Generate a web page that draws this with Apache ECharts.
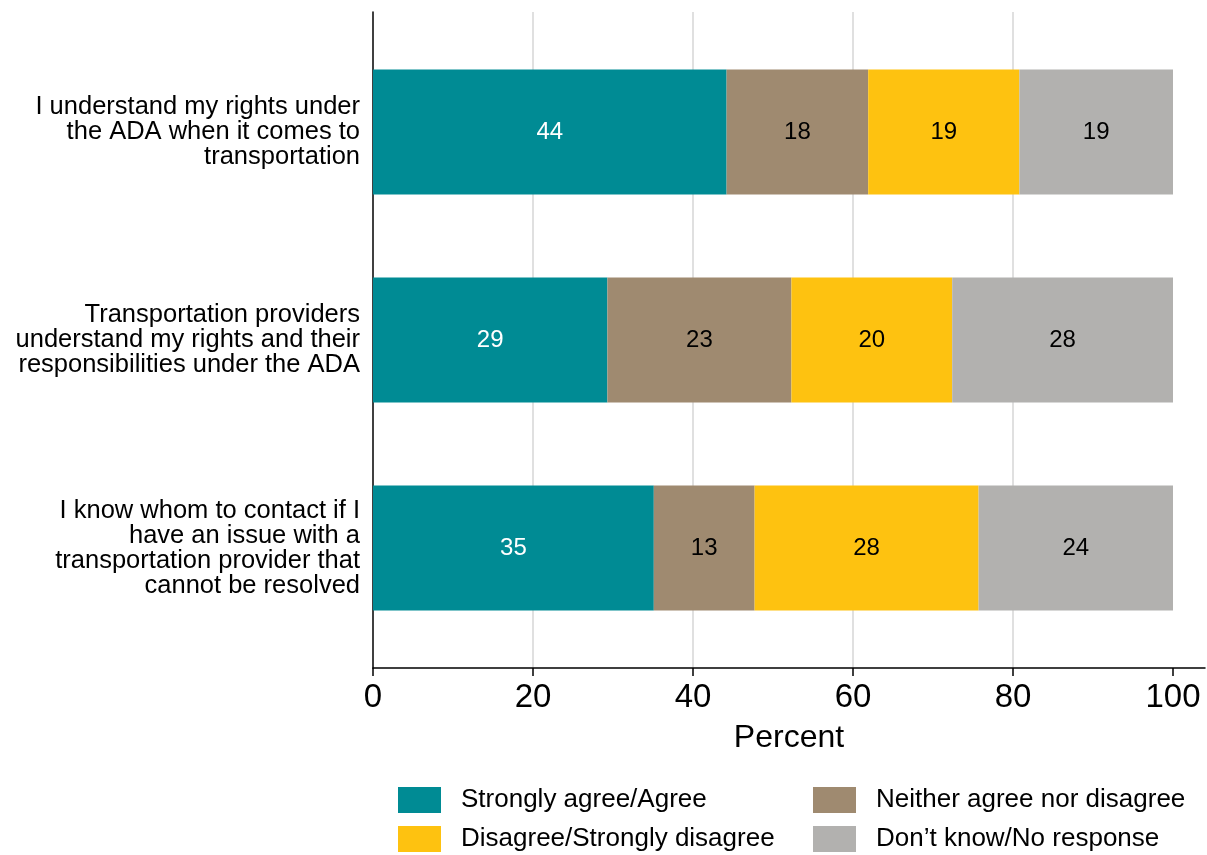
<!DOCTYPE html>
<html>
<head>
<meta charset="utf-8">
<script src="https://cdn.jsdelivr.net/npm/echarts@6/dist/echarts.min.js"></script>
<style>
  html, body { margin: 0; padding: 0; background: #fff; }
  #chart { width: 1207px; height: 855px; }
</style>
</head>
<body>
<div id="chart"></div>
<script>
// categories (top to bottom)
var categories = [
  'I understand my rights under\nthe ADA when it comes to\ntransportation',
  'Transportation providers\nunderstand my rights and their\nresponsibilities under the ADA',
  'I know whom to contact if I\nhave an issue with a\ntransportation provider that\ncannot be resolved'
]
var seriesNames = ['Strongly agree/Agree', 'Neither agree nor disagree', 'Disagree/Strongly disagree', 'Don\u2019t know/No response']
var agree = [44.2, 29.3, 35.1]
var neither = [17.7, 23.0, 12.6]
var disagree = [18.9, 20.1, 28.0]
var dontKnow = [19.2, 27.6, 24.3]
var xTicks = [0, 20, 40, 60, 80, 100]

var colors = ['#008B94', '#9F8A70', '#FEC210', '#B2B1AF']
var font = '"Liberation Sans", Arial, Helvetica, sans-serif'

var myChart = echarts.init(document.getElementById('chart'))

function makeSeries(name, data, idx) {
  return {
    name: name,
    type: 'bar',
    stack: 'total',
    xAxisIndex: 1,
    yAxisIndex: 1,
    barWidth: 125,
    data: data,
    itemStyle: { color: colors[idx] },
    label: {
      show: true,
      position: 'inside',
      color: idx === 0 ? '#fff' : '#000',
      fontFamily: font,
      fontSize: 24,
      formatter: function (p) { return Math.round(p.value) }
    },
    emphasis: { disabled: true }
  }
}

// one legend per item so the 2x2 layout is fixed
var legendPos = [[398, 787], [813, 787], [398, 826], [813, 826]]
var legends = [0, 1, 2, 3].map(function (i) {
  return {
    left: legendPos[i][0], top: legendPos[i][1],
    padding: 0,
    itemWidth: 43, itemHeight: 26,
    icon: 'rect',
    data: [seriesNames[i]],
    textStyle: { fontFamily: font, fontSize: 26, color: '#000', padding: [0, 0, 0, 15] }
  }
})

myChart.setOption({
  backgroundColor: '#fff',
  animation: false,
  textStyle: { fontFamily: font },
  grid: [
    // frame: axes + gridlines
    { left: 373, right: 2, top: 12, bottom: 187 },
    // bars
    { left: 373, right: 2, top: 28, bottom: 203 }
  ],
  legend: legends,
  xAxis: [
    {
      gridIndex: 0,
      type: 'value',
      min: 0,
      max: 104,
      interval: 20,
      name: 'Percent',
      nameLocation: 'middle',
      nameGap: 54,
      nameTextStyle: { fontFamily: font, fontSize: 32, color: '#000' },
      axisLine: { show: true, lineStyle: { color: '#000', width: 1.5 } },
      axisTick: { show: true, length: 8, customValues: xTicks, lineStyle: { color: '#000', width: 1.5 } },
      axisLabel: { customValues: xTicks, fontFamily: font, fontSize: 33, color: '#000', margin: 13 },
      splitLine: { show: true, showMinLine: false, showMaxLine: false, lineStyle: { color: '#e0e0e0', width: 2 } }
    },
    {
      gridIndex: 1,
      type: 'value',
      min: 0,
      max: 104,
      show: false
    }
  ],
  yAxis: [
    {
      gridIndex: 0,
      type: 'value',
      min: 0,
      max: 1,
      axisLine: { show: true, lineStyle: { color: '#000', width: 1.5 } },
      axisTick: { show: false },
      axisLabel: { show: false },
      splitLine: { show: false }
    },
    {
      gridIndex: 1,
      type: 'category',
      inverse: true,
      data: categories,
      axisLine: { show: false },
      axisTick: { show: false },
      axisLabel: { fontFamily: font, fontSize: 25.5, lineHeight: 25, color: '#000', margin: 13, align: 'right' }
    }
  ],
  series: [
    makeSeries(seriesNames[0], agree, 0),
    makeSeries(seriesNames[1], neither, 1),
    makeSeries(seriesNames[2], disagree, 2),
    makeSeries(seriesNames[3], dontKnow, 3)
  ]
})
</script>
</body>
</html>
